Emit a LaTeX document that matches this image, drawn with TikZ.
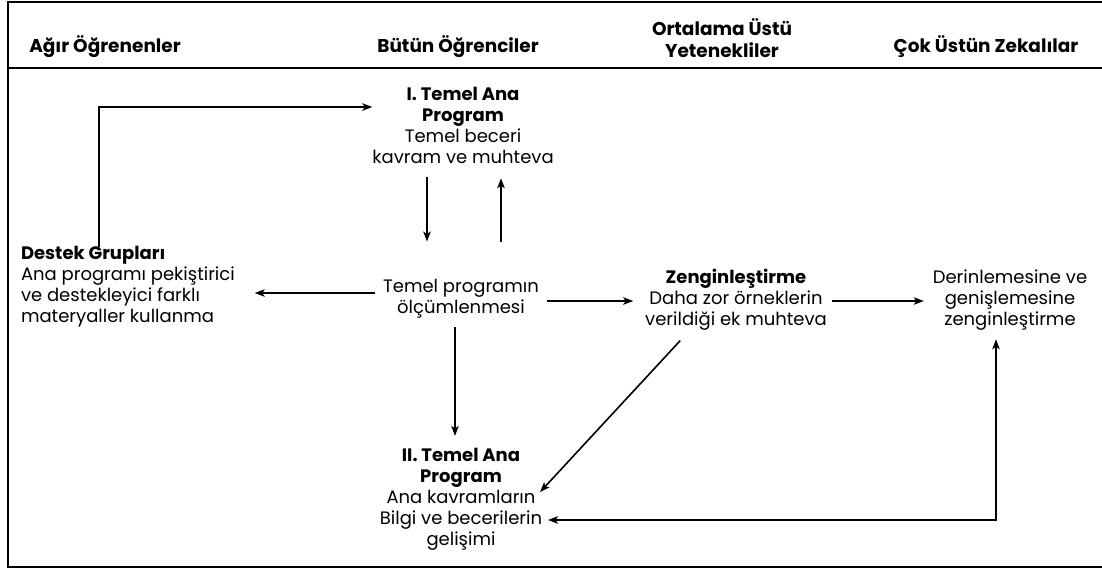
\documentclass[tikz,border=0pt]{standalone}
\usepackage{fontspec}
\setmainfont{Poppins}
\usetikzlibrary{arrows.meta}
\newcommand{\bodyfnt}{\fontsize{18}{21}\selectfont}
\newcommand{\headfnt}{\fontsize{18.5}{22}\selectfont\bfseries}
\begin{document}
\begin{tikzpicture}[x=1pt,y=-1pt,
  txt/.style={inner sep=0pt,outer sep=0pt,align=center,font=\bodyfnt},
  head/.style={inner sep=0pt,outer sep=0pt,align=center,font=\headfnt},
  frame/.style={line width=2.6pt},
  arr/.style={line width=1.6pt,-{Stealth[length=10pt,width=7.5pt,inset=2.5pt]}},
  arrb/.style={line width=1.6pt,{Stealth[length=10pt,width=7.5pt,inset=2.5pt]}-{Stealth[length=10pt,width=7.5pt,inset=2.5pt]}}]
\useasboundingbox (0,0) rectangle (1102,572);
\fill[white] (0,0) rectangle (1102,572);
% frame
\draw[frame] (1102,2) -- (8,2) -- (8,567) -- (1102,567);
\draw[line width=2.2pt] (8,68) -- (1102,68);
% headers
\node[head,anchor=base] (hA) at (105,53) {Ağır Öğrenenler};
\node[head,anchor=base] (hB) at (458,53) {Bütün Öğrenciler};
\node[head] (hC) at (722,38) {Ortalama Üstü\\Yetenekliler};
\node[head,anchor=base] (hD) at (986,53) {Çok Üstün Zekalılar};
% nodes
\node[txt] (p1) at (463,125) {\textbf{I. Temel Ana}\\\textbf{Program}\\Temel beceri\\kavram ve muhteva};
\node[txt,anchor=west,align=left] (destek) at (21,287) {\textbf{Destek Grupları}\\Ana programı pekiştirici\\ve destekleyici farklı\\materyaller kullanma};
\node[txt] (meas) at (461,299) {Temel programın\\ölçümlenmesi};
\node[txt] (zeng) at (736,300) {\textbf{Zenginleştirme}\\Daha zor örneklerin\\verildiği ek muhteva};
\node[txt] (der) at (1010,300) {Derinlemesine ve\\genişlemesine\\zenginleştirme};
\node[txt] (p2) at (461,499) {\textbf{II. Temel Ana}\\\textbf{Program}\\Ana kavramların\\Bilgi ve becerilerin\\gelişimi};
% helper coordinates
\coordinate (xa) at (427,0);
\coordinate (xb) at (501,0);
\coordinate (xc) at (455,0);
\coordinate (xl) at (99,0);
\coordinate (yl) at (0,107);
\coordinate (ym) at (0,293);
\coordinate (yr) at (0,301);
\coordinate (corner) at (996,520);
% connectors
\draw[arr] (destek.north -| xl) -- (xl |- yl) -- (p1.west |- yl);
\draw[arr] ([yshift=-14pt]p1.south -| xa) -- ([yshift=38pt]meas.north -| xa);
\draw[arr] ([yshift=38pt]meas.north -| xb) -- ([yshift=-15pt]p1.south -| xb);
\draw[arr] ([xshift=-8pt]meas.west |- ym) -- ([xshift=20pt]destek.east |- ym);
\draw[arr] ([xshift=8pt]meas.east |- yr) -- ([xshift=-12pt]zeng.west |- yr);
\draw[arr] ([xshift=5pt]zeng.east |- yr) -- ([xshift=-9pt]der.west |- yr);
\draw[arr] ([yshift=-8pt]meas.south -| xc) -- ([yshift=12pt]p2.north -| xc);
\draw[arr] ([xshift=35pt,yshift=-10pt]zeng.south west) -- ([xshift=-2pt,yshift=7pt]p2.east);
\draw[arrb] ([xshift=6pt]p2.east |- corner) -- (corner) -- ([yshift=-9pt]der.south -| corner);
\end{tikzpicture}
\end{document}
